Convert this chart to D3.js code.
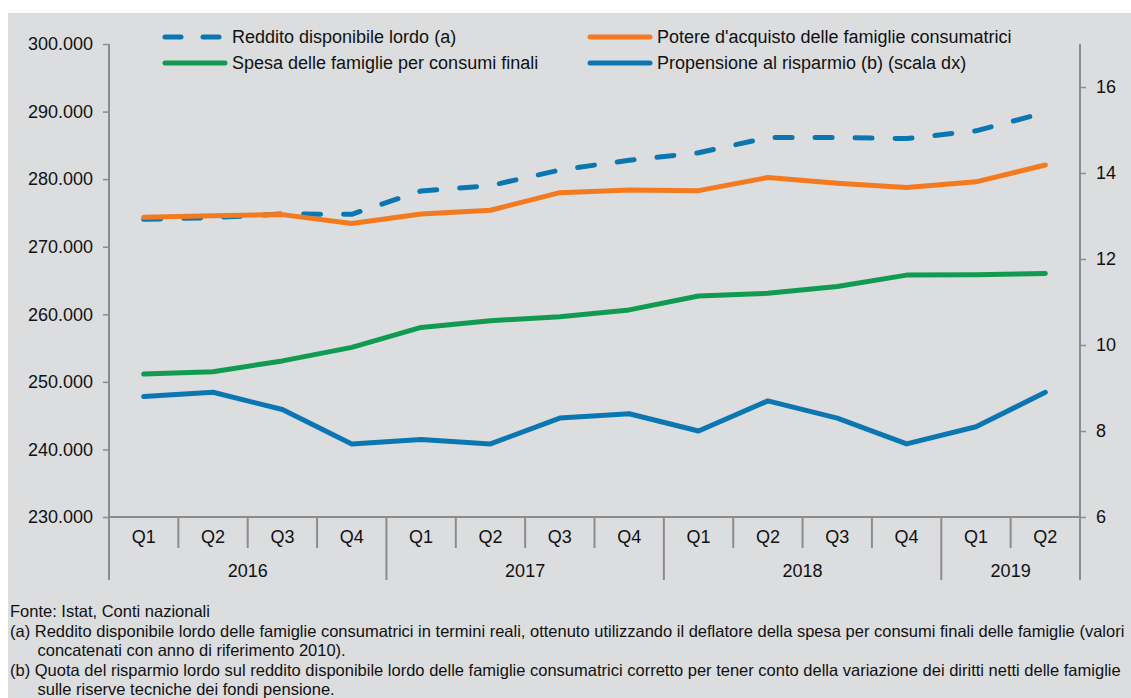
<!DOCTYPE html>
<html>
<head>
<meta charset="utf-8">
<script src="https://cdn.jsdelivr.net/npm/d3@7"></script>
<style>
  body { margin: 0; background: #fff; }
  text { font-family: "Liberation Sans", Arial, sans-serif; fill: #111; }
  .note { font-family: "Liberation Sans Narrow", "Liberation Sans", Arial, sans-serif; }
</style>
</head>
<body>
<script>
// data
var quarters = ['Q1', 'Q2', 'Q3', 'Q4', 'Q1', 'Q2', 'Q3', 'Q4', 'Q1', 'Q2', 'Q3', 'Q4', 'Q1', 'Q2'];
var years = ['2016', '2017', '2018', '2019'];
var reddito = [274050, 274300, 274850, 274800, 278250, 279050, 281350, 282800, 283900, 286150, 286150, 286000, 287150, 289850];
var potere = [274350, 274600, 274750, 273450, 274850, 275400, 278000, 278400, 278300, 280250, 279400, 278750, 279600, 282100];
var spesa = [251150, 251500, 253100, 255100, 258050, 259050, 259650, 260650, 262700, 263100, 264100, 265800, 265850, 266050];
var risparmio = [8.8, 8.9, 8.5, 7.7, 7.8, 7.7, 8.3, 8.4, 8.0, 8.7, 8.3, 7.7, 8.1, 8.9];
var leftTicks = [230000, 240000, 250000, 260000, 270000, 280000, 290000, 300000];
var rightTicks = [6, 8, 10, 12, 14, 16];
var notes = [
  'Fonte: Istat, Conti nazionali',
  '(a) Reddito disponibile lordo delle famiglie consumatrici in termini reali, ottenuto utilizzando il deflatore della spesa per consumi finali delle famiglie (valori',
  '      concatenati con anno di riferimento 2010).',
  '(b) Quota del risparmio lordo sul reddito disponibile lordo delle famiglie consumatrici corretto per tener conto della variazione dei diritti netti delle famiglie',
  '      sulle riserve tecniche dei fondi pensione.'
];

var W = 1131, H = 698;
var mLeft = 109, mRight = 1080, mTop = 44, mBottom = 517;
var axisColor = '#8c8c8c';
var fs = 18;

var svg = d3.select('body').append('svg')
    .attr('width', W)
    .attr('height', H);

svg.append('rect')
    .attr('x', 8).attr('y', 13)
    .attr('width', W - 8).attr('height', H - 13)
    .attr('fill', '#dcdddf');

var idx = d3.range(quarters.length);
var x = d3.scaleBand().domain(idx).range([mLeft, mRight]);
var yL = d3.scaleLinear().domain([230000, 300000]).range([mBottom, mTop]);
var yR = d3.scaleLinear().domain([6, 17]).range([mBottom, mTop]);

var fmt = function(d) { return d3.format(',')(d).replace(/,/g, '.'); };

// left axis
var gL = svg.append('g')
    .attr('transform', 'translate(' + mLeft + ',0)')
    .call(d3.axisLeft(yL).tickValues(leftTicks).tickFormat(fmt).tickSize(6).tickPadding(10));
gL.select('.domain').remove();
gL.selectAll('.tick line').attr('stroke', axisColor).attr('stroke-width', 1.5);
gL.selectAll('.tick text').attr('font-size', fs).attr('fill', '#111')
    .attr('font-family', '"Liberation Sans", Arial, sans-serif');
svg.append('line')
    .attr('x1', mLeft).attr('x2', mLeft).attr('y1', mTop).attr('y2', 580)
    .attr('stroke', axisColor).attr('stroke-width', 2);

// right axis
var gR = svg.append('g')
    .attr('transform', 'translate(' + mRight + ',0)')
    .call(d3.axisRight(yR).tickValues(rightTicks).tickSize(6).tickPadding(10));
gR.select('.domain').remove();
gR.selectAll('.tick line').attr('stroke', axisColor).attr('stroke-width', 1.5);
gR.selectAll('.tick text').attr('font-size', fs).attr('fill', '#111')
    .attr('font-family', '"Liberation Sans", Arial, sans-serif');
svg.append('line')
    .attr('x1', mRight).attr('x2', mRight).attr('y1', mTop).attr('y2', 580)
    .attr('stroke', axisColor).attr('stroke-width', 2);

// bottom axis
svg.append('line')
    .attr('x1', mLeft).attr('x2', mRight).attr('y1', mBottom).attr('y2', mBottom)
    .attr('stroke', axisColor).attr('stroke-width', 2);

svg.selectAll('.qlab').data(idx).enter().append('text')
    .attr('x', function(i) { return x(i) + x.bandwidth() / 2; })
    .attr('y', 543)
    .attr('text-anchor', 'middle')
    .attr('font-size', fs)
    .text(function(i) { return quarters[i]; });

svg.selectAll('.qsep').data(idx.slice(1)).enter().append('line')
    .attr('x1', function(i) { return x(i); })
    .attr('x2', function(i) { return x(i); })
    .attr('y1', mBottom)
    .attr('y2', function(i) { return i % 4 === 0 ? 580 : 548; })
    .attr('stroke', axisColor).attr('stroke-width', 2);

years.forEach(function(yr, k) {
    var a = k * 4, b = Math.min(a + 3, quarters.length - 1);
    svg.append('text')
        .attr('x', (x(a) + x(b) + x.bandwidth()) / 2)
        .attr('y', 577)
        .attr('text-anchor', 'middle')
        .attr('font-size', fs)
        .text(yr);
});

// series
var series = [
    { name: 'Reddito disponibile lordo (a)', values: reddito, scale: yL, color: '#0a77b2', dash: '17,23' },
    { name: 'Spesa delle famiglie per consumi finali', values: spesa, scale: yL, color: '#109b50', dash: null },
    { name: "Potere d'acquisto delle famiglie consumatrici", values: potere, scale: yL, color: '#f47a20', dash: null },
    { name: 'Propensione al risparmio (b) (scala dx)', values: risparmio, scale: yR, color: '#0a77b2', dash: null }
];

var cx = function(i) { return x(i) + x.bandwidth() / 2; };

[series[3], series[1], series[0], series[2]].forEach(function(s) {
    var line = d3.line()
        .x(function(d, i) { return cx(i); })
        .y(function(d) { return s.scale(d); });
    svg.append('path')
        .datum(s.values)
        .attr('d', line)
        .attr('fill', 'none')
        .attr('stroke', s.color)
        .attr('stroke-width', 5)
        .attr('stroke-linecap', 'round')
        .attr('stroke-linejoin', 'round')
        .attr('stroke-dasharray', s.dash);
});

// legend
var legPos = [[165, 37], [165, 63], [590, 37], [590, 63]];
series.forEach(function(s, k) {
    var p = legPos[k];
    svg.append('line')
        .attr('x1', p[0]).attr('x2', p[0] + 60)
        .attr('y1', p[1]).attr('y2', p[1])
        .attr('stroke', s.color)
        .attr('stroke-width', 5)
        .attr('stroke-linecap', 'round')
        .attr('stroke-dasharray', s.dash ? '16,22' : null);
    svg.append('text')
        .attr('x', p[0] + 67).attr('y', p[1] + 6)
        .attr('font-size', fs)
        .text(s.name);
});

// notes
svg.selectAll('.note').data(notes).enter().append('text')
    .attr('class', 'note')
    .attr('x', 10)
    .attr('y', function(d, i) { return 617 + i * 19.5; })
    .attr('font-size', 16.5)
    .style('white-space', 'pre')
    .text(function(d) { return d; });
</script>
</body>
</html>
